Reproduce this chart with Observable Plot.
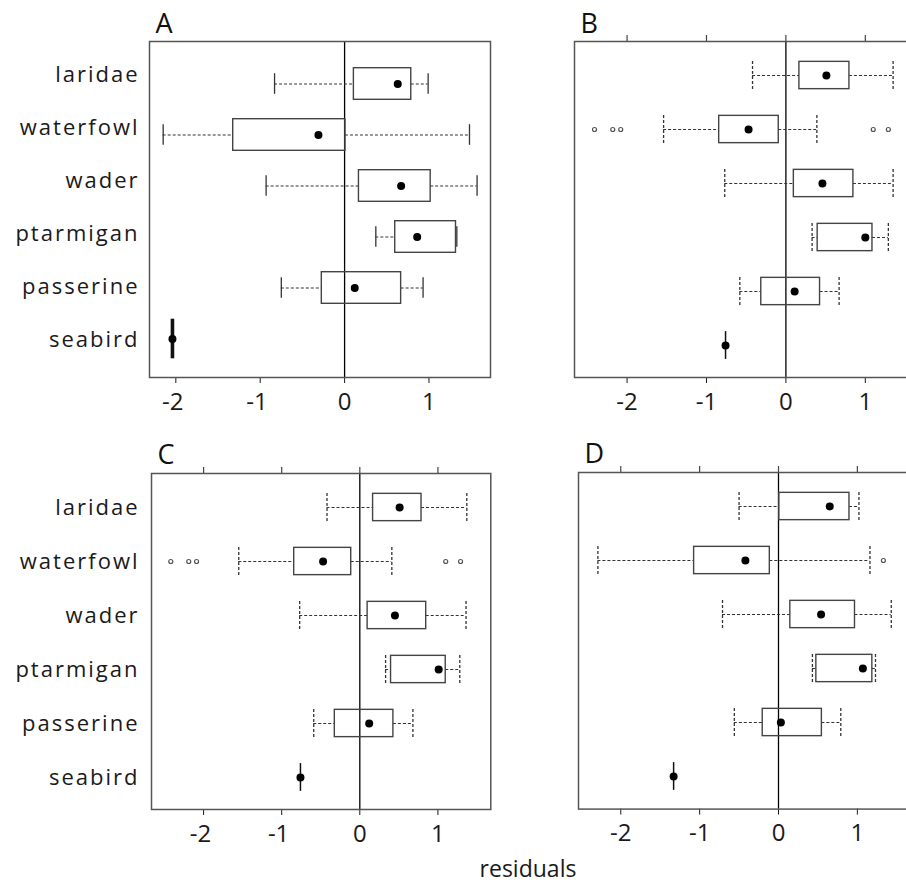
<!DOCTYPE html>
<html>
<head>
<meta charset="utf-8">
<script src="https://cdn.jsdelivr.net/npm/d3@7"></script>
<script src="https://cdn.jsdelivr.net/npm/@observablehq/plot@0.6"></script>
<style>
  html, body { margin: 0; padding: 0; background: #fff; overflow: hidden; }
  #fig { position: relative; width: 906px; height: 893px; overflow: hidden; font-family: "Open Sans", sans-serif; color: #1a1a1a; }
  #fig svg { position: absolute; overflow: visible; max-width: none; }
  #xlabel { position: absolute; left: 428px; width: 200px; top: 857px; text-align: center; font-size: 23px; line-height: 23px; }
</style>
</head>
<body>
<div id="fig"><div id="xlabel">residuals</div></div>
<script>
// Bird groups, top to bottom
const categories = ["laridae", "waterfowl", "wader", "ptarmigan", "passerine", "seabird"];
const xTicks = [-2, -1, 0, 1];

// Panel A: whisker ends, box edges, centre dot
const lowA    = [-0.83, -2.15, -0.93, 0.37, -0.75, -2.04];
const q1A     = [ 0.11, -1.32,  0.17, 0.60, -0.27, -2.04];
const q3A     = [ 0.79,  0.01,  1.02, 1.32,  0.67, -2.04];
const highA   = [ 0.99,  1.48,  1.57, 1.33,  0.93, -2.04];
const centreA = [ 0.63, -0.31,  0.67, 0.86,  0.12, -2.04];
const outliersA = [];

// Panel B
const lowB    = [-0.42, -1.54, -0.77, 0.33, -0.58, -0.76];
const q1B     = [ 0.17, -0.84,  0.10, 0.40, -0.31, -0.76];
const q3B     = [ 0.80, -0.09,  0.85, 1.09,  0.43, -0.76];
const highB   = [ 1.35,  0.39,  1.35, 1.29,  0.67, -0.76];
const centreB = [ 0.51, -0.47,  0.46, 1.00,  0.11, -0.76];
const outliersB = [-2.41, -2.18, -2.08, 1.10, 1.29];   // waterfowl

// Panel C
const lowC    = [-0.42, -1.55, -0.77, 0.33, -0.59, -0.76];
const q1C     = [ 0.17, -0.84,  0.10, 0.40, -0.32, -0.76];
const q3C     = [ 0.79, -0.11,  0.85, 1.10,  0.43, -0.76];
const highC   = [ 1.37,  0.41,  1.36, 1.28,  0.68, -0.76];
const centreC = [ 0.51, -0.47,  0.45, 1.01,  0.12, -0.76];
const outliersC = [-2.42, -2.19, -2.09, 1.10, 1.29];   // waterfowl

// Panel D
const lowD    = [-0.50, -2.29, -0.71, 0.43, -0.56, -1.33];
const q1D     = [ 0.01, -1.07,  0.15, 0.48, -0.20, -1.33];
const q3D     = [ 0.90, -0.11,  0.97, 1.19,  0.55, -1.33];
const highD   = [ 1.02,  1.16,  1.43, 1.23,  0.79, -1.33];
const centreD = [ 0.65, -0.42,  0.54, 1.07,  0.03, -1.33];
const outliersD = [1.33];                               // waterfowl

const fig = document.getElementById("fig");
const FONT = "'Open Sans', sans-serif";
const MT = 41, MB = 45, ML = 10, MR = 10;

function place(svg, left, top) {
  svg.style.left = left + "px";
  svg.style.top = top + "px";
  fig.appendChild(svg);
}

function panel(cfg) {
  const rows = categories.map((cat, i) => ({
    cat, lo: cfg.low[i], q1: cfg.q1[i], q3: cfg.q3[i], hi: cfg.high[i], mid: cfg.centre[i]
  }));
  const boxes = rows.filter(d => d.q3 > d.q1);
  const flat = rows.filter(d => d.q3 <= d.q1);
  const spread = rows.filter(d => d.hi > d.lo);
  const outl = cfg.outliers.map(v => ({cat: "waterfowl", v}));
  const step = cfg.step;
  const y0 = MT + cfg.firstRow - step / 2;
  const capInset = (step - cfg.capH) / 2;
  const boxInset = (step - cfg.boxH) / 2;
  const flatInset = (step - cfg.flatH) / 2;
  const fmt = d => d < 0 ? "-" + Math.abs(d) + (cfg.hangMinus ? "\u00A0" : "") : String(d);
  const whisker = {stroke: "#333", strokeWidth: 1.1, strokeDasharray: "3,2"};
  const cap = {stroke: "#333", strokeWidth: 1.3, strokeDasharray: cfg.capDash};

  const svg = Plot.plot({
    width: cfg.frameW + ML + MR,
    height: MT + cfg.frameH + MB,
    marginLeft: ML, marginRight: MR, marginTop: MT, marginBottom: MB,
    style: {fontFamily: FONT, fontSize: "24px", color: "#1a1a1a", background: "transparent", overflow: "visible"},
    x: {domain: cfg.xDomain, ticks: xTicks, tickSize: 6, tickPadding: 9, tickFormat: fmt, label: null},
    y: {type: "band", domain: categories, range: [y0, y0 + 6 * step], padding: 0, axis: null},
    marks: [
      cfg.topTicks ? Plot.ruleX(xTicks, {x: d => d, insetTop: -6, insetBottom: cfg.frameH, stroke: "#444", strokeWidth: 1.2}) : null,
      Plot.ruleX([0], {stroke: "#000", strokeWidth: 1.3}),
      Plot.ruleY(spread, {y: "cat", x1: "lo", x2: "q1", ...whisker}),
      Plot.ruleY(spread, {y: "cat", x1: "q3", x2: "hi", ...whisker}),
      Plot.tickX(spread, {x: "lo", y: "cat", insetTop: capInset, insetBottom: capInset, ...cap}),
      Plot.tickX(spread, {x: "hi", y: "cat", insetTop: capInset, insetBottom: capInset, ...cap}),
      Plot.barX(boxes, {x1: "q1", x2: "q3", y: "cat", fill: "none", stroke: "#444", strokeWidth: 1.4,
                        insetTop: boxInset, insetBottom: boxInset}),
      Plot.tickX(flat, {x: "q1", y: "cat", insetTop: flatInset, insetBottom: flatInset,
                        stroke: "#111", strokeWidth: cfg.flatW}),
      Plot.dot(outl, {x: "v", y: "cat", r: 2, stroke: "#555", strokeWidth: 1.2, fill: "white"}),
      Plot.dot(rows, {x: "mid", y: "cat", r: 4, fill: "#000", stroke: "none"}),
      Plot.frame({stroke: "#555", strokeWidth: 1.5}),
      Plot.text([cfg.letter], {text: d => d, frameAnchor: "top-left", textAnchor: "start", lineAnchor: "bottom",
                               dx: 6, dy: -9, fontSize: 27, fill: "#111"})
    ]
  });
  place(svg, cfg.frameLeft - ML, cfg.frameTop - MT);
}

function labelColumn(top, firstRow, step) {
  const svg = Plot.plot({
    width: 139, height: 400, margin: 0,
    style: {fontFamily: FONT, fontSize: "22px", color: "#1a1a1a", background: "transparent", overflow: "visible", letterSpacing: "2px"},
    y: {type: "point", domain: categories, range: [firstRow, firstRow + 5 * step], padding: 0, axis: null},
    marks: [
      Plot.text(categories, {y: d => d, text: d => d, frameAnchor: "right", textAnchor: "end", fill: "#1a1a1a"})
    ]
  });
  place(svg, 0, top);
}

panel({letter: "A", low: lowA, q1: q1A, q3: q3A, high: highA, centre: centreA, outliers: outliersA,
       frameLeft: 149, frameTop: 41, frameW: 341, frameH: 336, xDomain: [-2.312, 1.729],
       firstRow: 42, step: 51.4, capH: 21, boxH: 32, flatH: 40, flatW: 3.6,
       capDash: null, topTicks: false, hangMinus: true});
panel({letter: "B", low: lowB, q1: q1B, q3: q3B, high: highB, centre: centreB, outliers: outliersB,
       frameLeft: 574.3, frameTop: 41, frameW: 341, frameH: 336, xDomain: [-2.662, 1.632],
       firstRow: 33, step: 54.2, capH: 28, boxH: 27.5, flatH: 28, flatW: 1.5,
       capDash: "3,2", topTicks: true, hangMinus: false});
panel({letter: "C", low: lowC, q1: q1C, q3: q3C, high: highC, centre: centreC, outliers: outliersC,
       frameLeft: 150.7, frameTop: 473.3, frameW: 339.3, frameH: 336, xDomain: [-2.667, 1.677],
       firstRow: 33, step: 54.2, capH: 28, boxH: 27.5, flatH: 28, flatW: 1.5,
       capDash: "3,2", topTicks: true, hangMinus: true});
panel({letter: "D", low: lowD, q1: q1D, q3: q3D, high: highD, centre: centreD, outliers: outliersD,
       frameLeft: 578.3, frameTop: 471.7, frameW: 341, frameH: 336.6, xDomain: [-2.536, 1.788],
       firstRow: 33, step: 54.2, capH: 28, boxH: 27.5, flatH: 28, flatW: 1.5,
       capDash: "3,2", topTicks: true, hangMinus: false});

labelColumn(0, 72, 53.6);
labelColumn(0, 506, 54.2);
</script>
</body>
</html>
